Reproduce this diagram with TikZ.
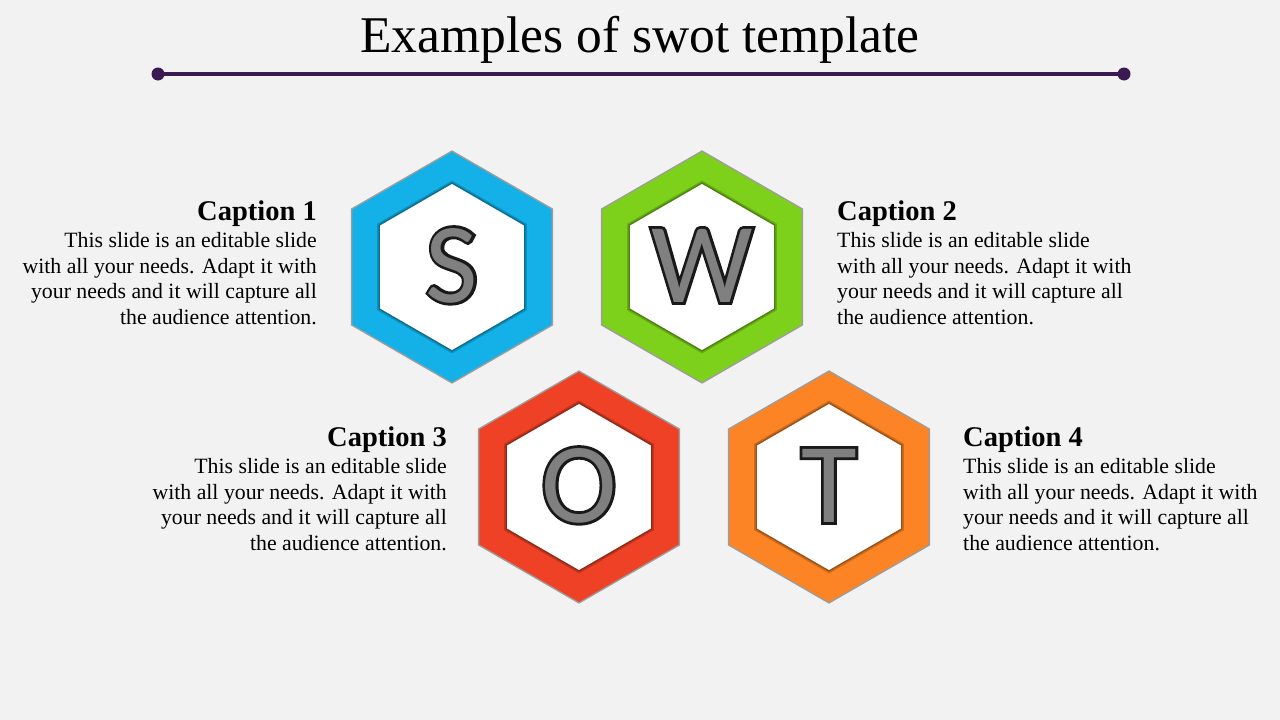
\documentclass[tikz,border=0pt]{standalone}
\usepackage{fontspec}
\setmainfont{Liberation Serif}
\newfontfamily\letterfont{Carlito}
\newfontfamily\letterrim[FakeBold=5]{Carlito}
\usetikzlibrary{positioning}
\definecolor{slidebg}{HTML}{F2F2F2}
\definecolor{titleline}{HTML}{3B1A52}
\definecolor{swotblue}{HTML}{13B1E8}
\definecolor{swotgreen}{HTML}{7DD11A}
\definecolor{swotred}{HTML}{EE4125}
\definecolor{swotorange}{HTML}{FC8424}
\tikzset{
  capt/.style = {inner sep=0pt, font=\fontsize{28.5}{32}\selectfont\bfseries},
  body/.style = {inner sep=0pt, font=\fontsize{21.8}{25.5}\selectfont},
  swotletter/.style = {inner sep=0pt, anchor=base, font=\letterfont\fontsize{114}{114}\selectfont},
  swotrim/.style = {swotletter, font=\letterrim\fontsize{114}{114}\selectfont}
}
\begin{document}
\begin{tikzpicture}[x=1pt, y=-1pt]
    \useasboundingbox [fill=slidebg] (0,0) rectangle (1280,720);
    % title
    \node [inner sep=0pt, anchor=base, font=\fontsize{51.5}{55}\selectfont] (title) at (640,52) {Examples of swot template};
    \coordinate (lineL) at (158,74);
    \coordinate (lineR) at (1124,74);
    \draw [titleline, line width=4pt] (lineL) -- (lineR);
    \fill [titleline] (lineL) circle (6.5) (lineR) circle (6.5);
    % hexagons
    \foreach \cx/\cy/\col/\ltr/\nm in {452/267/swotblue/S/hexS, 702/267/swotgreen/W/hexW,
                                      579/487/swotred/O/hexO, 829/487/swotorange/T/hexT} {
      \coordinate (\nm) at (\cx,\cy);
      \draw [black, line width=3pt, opacity=.35]
        (\nm) +(90:115) -- +(150:115) -- +(210:115) -- +(270:115) -- +(330:115) -- +(30:115) -- cycle;
      \fill [\col]
        (\nm) +(90:115) -- +(150:115) -- +(210:115) -- +(270:115) -- +(330:115) -- +(30:115) -- cycle;
      \draw [black, line width=6pt, opacity=.18]
        (\nm) +(90:83) -- +(150:83) -- +(210:83) -- +(270:83) -- +(330:83) -- +(30:83) -- cycle;
      \draw [black, line width=3pt, opacity=.25]
        (\nm) +(90:83) -- +(150:83) -- +(210:83) -- +(270:83) -- +(330:83) -- +(30:83) -- cycle;
      \fill [white]
        (\nm) +(90:83) -- +(150:83) -- +(210:83) -- +(270:83) -- +(330:83) -- +(30:83) -- cycle;
      % letter: dark rim, metal face
      \node [swotrim, black!90] at (\cx,\cy+35) {\ltr};
      \node [swotletter, black!50] (ltr\ltr) at (\cx,\cy+35) {\ltr};
    }
    % captions
    \node [capt, anchor=base east] (cap1) at (317,220) {Caption 1};
    \node [body, align=right, below left=6pt and 0pt of cap1.south east] (txt1)
      {This slide is an editable slide\\with all your needs. Adapt it with\\your needs and it will capture all\\the audience attention.};
    \node [capt, anchor=base west] (cap2) at (837,220) {Caption 2};
    \node [body, align=left, below right=6pt and 0pt of cap2.south west] (txt2)
      {This slide is an editable slide\\with all your needs. Adapt it with\\your needs and it will capture all\\the audience attention.};
    \node [capt, anchor=base east] (cap3) at (447,446) {Caption 3};
    \node [body, align=right, below left=6pt and 0pt of cap3.south east] (txt3)
      {This slide is an editable slide\\with all your needs. Adapt it with\\your needs and it will capture all\\the audience attention.};
    \node [capt, anchor=base west] (cap4) at (963,446) {Caption 4};
    \node [body, align=left, below right=6pt and 0pt of cap4.south west] (txt4)
      {This slide is an editable slide\\with all your needs. Adapt it with\\your needs and it will capture all\\the audience attention.};
\end{tikzpicture}
\end{document}
